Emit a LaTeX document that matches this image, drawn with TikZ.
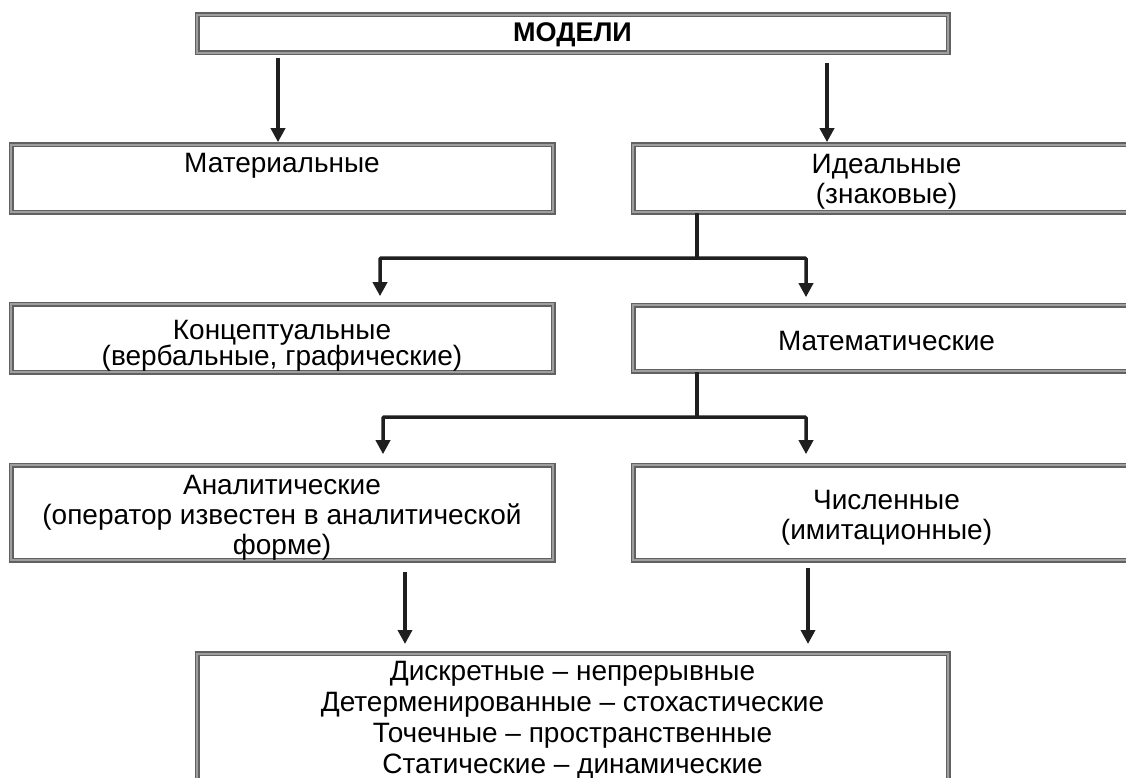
\documentclass[tikz,border=0pt]{standalone}
\usepackage{fontspec}
\setmainfont{Liberation Sans}
\usetikzlibrary{arrows.meta,calc}
\begin{document}
\begin{tikzpicture}[x=1pt,y=-1pt,
  box/.style={draw=black!62, double=black!38, line width=1.6pt, double distance=1.8pt,
    fill=white, inner sep=0pt},
  txt/.style={align=center, inner sep=0pt, font=\fontsize{28}{30}\selectfont},
  arr/.style={-{Triangle[width=14pt,length=14pt]}, line width=3.5pt, draw=black!88},
  ln/.style={line width=3.5pt, draw=black!88}]
\useasboundingbox (0,0) rectangle (1126,778);
\clip (0,0) rectangle (1126,778);
\fill[white] (0,0) rectangle (1126,778);
% boxes
\node[box, minimum width=751pt, minimum height=38pt] (top) at (572.5,34) {};
\node[txt, font=\fontsize{27}{29}\selectfont\bfseries] (topt) at (572.5,35) {МОДЕЛИ};
\node[box, minimum width=542pt, minimum height=67pt] (mat) at (282,178.5) {};
\node[txt] (matt) at (282,166) {Материальные};
\node[box, minimum width=507pt, minimum height=67pt] (ideal) at (886.5,178.5) {};
\node[txt] (idealt) at (886.5,182) {Идеальные\\(знаковые)};
\node[box, minimum width=542pt, minimum height=68pt] (konc) at (282,338) {};
\node[txt, font=\fontsize{28}{26.5}\selectfont] (konct) at (282,346)
  {Концептуальные\\(вербальные, графические)};
\node[box, minimum width=507pt, minimum height=66pt] (math) at (886.5,338) {};
\node[txt] (matht) at (886.5,341) {Математические};
\node[box, minimum width=542pt, minimum height=95pt] (anal) at (282,512.5) {};
\node[txt] (analt) at (282,517.5)
  {Аналитические\\(оператор известен в аналитической\\форме)};
\node[box, minimum width=507pt, minimum height=95pt] (num) at (886.5,512.5) {};
\node[txt] (numt) at (886.5,517.5) {Численные\\(имитационные)};
\node[box, minimum width=751pt, minimum height=160pt, anchor=north] (bot) at (572.5,653) {};
\node[txt, anchor=north, font=\fontsize{28}{31}\selectfont] (bott) at (572.5,661)
  {Дискретные – непрерывные\\Детерменированные – стохастические\\Точечные – пространственные\\Статические – динамические};
% connectors from top
\coordinate (a1) at (278,58);
\coordinate (a2) at (827,63);
\draw[arr, shorten >=2pt] (a1) -- (a1 |- mat.north);
\draw[arr, shorten >=2pt] (a2) -- (a2 |- ideal.north);
% branch 1
\coordinate (b1) at (697,258);
\draw[ln] (b1 |- ideal.south) -- (b1);
\draw[arr, shorten >=7pt, rounded corners=1pt] (b1) -| (380,0 |- konc.north);
\draw[arr, shorten >=7pt, rounded corners=1pt] (b1) -| (806,0 |- math.north);
% branch 2
\coordinate (b2) at (697,417);
\draw[ln] (b2 |- math.south) -- (b2);
\draw[arr, shorten >=10pt, rounded corners=1pt] (b2) -| (383,0 |- anal.north);
\draw[arr, shorten >=10pt, rounded corners=1pt] (b2) -| (806,0 |- num.north);
% to bottom
\coordinate (c1) at (405,572);
\coordinate (c2) at (808,568);
\draw[arr, shorten >=9pt] (c1) -- (c1 |- bot.north);
\draw[arr, shorten >=9pt] (c2) -- (c2 |- bot.north);
\end{tikzpicture}
\end{document}
